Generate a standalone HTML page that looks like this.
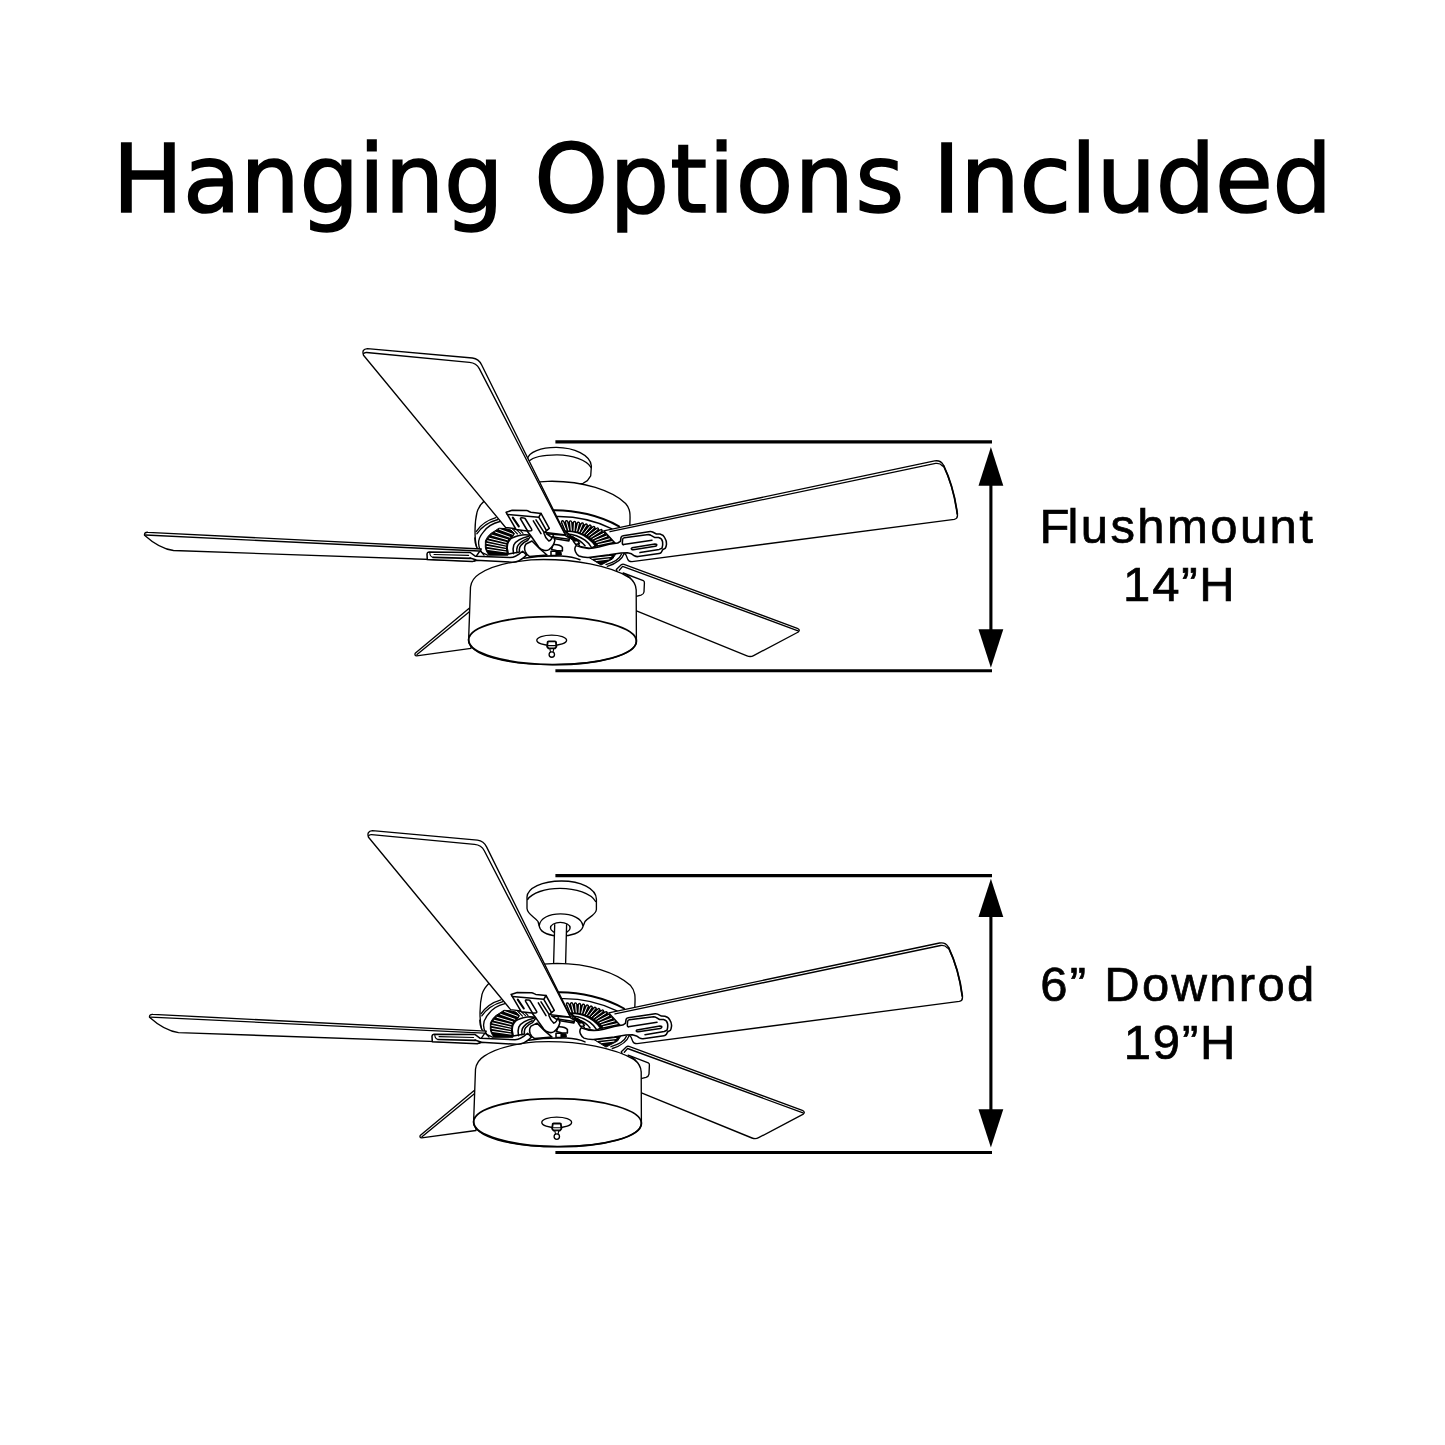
<!DOCTYPE html>
<html lang="en">
<head>
<meta charset="utf-8">
<title>Hanging Options Included</title>
<style>
html,body{margin:0;padding:0;background:#fff;}
body{width:1445px;height:1445px;overflow:hidden;}
svg{display:block;}
.t{font-family:"DejaVu Sans","Liberation Sans",sans-serif;font-size:94px;letter-spacing:0px;fill:#000;stroke:#000;stroke-width:1.6px;stroke-linejoin:miter;}
.l{font-family:"Liberation Sans",sans-serif;font-size:49px;letter-spacing:1.8px;fill:#000;stroke:#000;stroke-width:.7px;}
.o{fill:#fff;stroke:#000;stroke-width:1.35;stroke-linejoin:round;stroke-linecap:round;}
.n{fill:none;stroke:#000;stroke-width:1.35;stroke-linejoin:round;stroke-linecap:round;}
.h{fill:none;stroke:#000;stroke-width:2;stroke-linejoin:round;stroke-linecap:round;}
.k{fill:#000;stroke:#000;stroke-width:1;stroke-linejoin:round;}
.w{fill:none;stroke:#fff;stroke-width:1;stroke-linecap:round;}
.f{fill:none;stroke:#000;stroke-width:3.3;stroke-linecap:round;}
.hb .o,.hb .n{stroke-width:1.55;}
.d{fill:none;stroke:#000;stroke-width:3.1;}
</style>
</head>
<body>
<svg width="1445" height="1445" viewBox="0 0 1445 1445">
<rect width="1445" height="1445" fill="#fff"/>
<defs>
<!-- ===== shared fan body (fan 1 coordinates) ===== -->
<g id="fan">
<!-- motor housing -->
<path fill="#fff" d="M476.6 547C474.3 538 474.6 522 477 512.3C481 497 508 482.3 552 481.2C583 481.2 612 490.5 625.6 503.5C631 509.5 630.2 516 629.8 525L629 545L600 566L486 556Z"/>
<path class="n" d="M476.6 547C474.3 538 474.6 522 477 512.3C481 497 508 482.3 552 481.2C583 481.2 612 490.5 625.6 503.5C631 509.5 630.2 516 629.8 525"/>
<path class="n" d="M474.8 538C474.8 545 477.5 550 482 552.5L488.2 555.3"/>
<!-- trim ring -->
<path class="h" d="M552.6 510.2C575 509.8 600 515.5 619 526.4"/>
<path class="n" d="M557 516.5C576 516.2 596 521 612 528.8"/>
<path class="n" d="M495.9 517.7C488 520 480.5 525 476.2 531.6"/>
<path class="n" d="M497.9 519.5C489.5 521.8 481.5 527 476.8 533.8"/>
<path class="n" d="M499.9 521.5C492 523.5 486.5 527.5 483.5 531.9C480 536 478.4 540 478.6 543.5C478.8 547 480.5 551.5 484 555"/>
<path class="k" d="M490.9 533.4L494.9 530.9L498.9 528.2L505 528.6L511 530L514.5 533.6L512.4 537L508.4 541L506.9 546L507.9 555.2L489.2 555.2C486.8 552.5 485.5 549.5 485.3 547L485.4 541C486.5 538 488.5 535.5 490.9 533.4Z"/>
<path class="w" d="M499.6 529.4L512.6 534.2M495.6 532.2L509.8 537.2M492.0 535.2L507.6 539.8M489.2 538.2L506.2 542.4M487.6 540.8L506.0 545.0M486.8 543.4L505.6 547.2M487.0 546.4L505.6 549.6M487.6 549.4L506.0 552.0"/>
<path class="n" d="M513 529.4L517.5 534M516 529.2L520.5 533.6M519 529.2L523 533.4M512.5 529.2L521.5 529.6" style="stroke-width:1.1"/>
<path class="k" d="M561.4 522.3L570.5 522.1L582.1 524.1L592.3 527.0L602.5 531.2L605.5 534.0L614.8 543.0L597.0 546.2L594.4 542.0L586.9 536.0L576.9 532.0L565.2 531.6Z"/>
<path class="f" d="M562.5 521.8L566.5 531.6M566.5 521.7L569.0 531.7M570.5 521.8L571.4 531.8M574.5 522.4L573.9 531.9M578.4 523.1L576.3 532.0M582.3 523.9L578.7 532.7M586.2 525.0L580.9 533.6M590.0 526.1L583.2 534.5M593.8 527.5L585.5 535.4M597.5 529.0L587.6 536.6M601.2 530.6L589.5 538.1M604.2 533.1L591.5 539.6M607.1 535.9L593.4 541.2M610.0 538.7L595.0 543.0M612.8 541.5L596.3 545.1"/>
<path class="w" d="M562.7 522.1L566.1 530.5M566.6 522.0L568.7 530.6M570.6 522.1L571.3 530.7M574.5 522.8L574.0 530.8M578.4 523.4L576.6 531.0M582.2 524.2L579.1 531.7M586.0 525.3L581.5 532.6M589.8 526.4L584.0 533.6M593.5 527.8L586.4 534.5M597.2 529.3L588.8 535.7M600.8 530.9L590.9 537.3M603.8 533.4L592.9 538.9M606.7 536.1L595.0 540.6M609.5 538.8L596.7 542.5M612.3 541.6L598.2 544.6"/>
<!-- lower fins (right) -->
<path class="k" d="M588 556.9L615.6 554.3L612.5 559L601 565Z"/>
<path class="w" d="M592 558.4L611 556.4M596 560.6L609 559"/>
<path class="n" d="M624 553.8C622.5 558.5 618 563 607.3 566.4"/>
<path class="n" d="M621.4 554.2C620 558 616 561.6 606 564.6"/>
<!-- lower-left blade (behind drum) -->
<path class="o" d="M415.2 653.3L469.5 608.1L471 648.4L416.6 655.8Q414.3 655.6 415.2 653.3Z"/>
<path class="n" d="M417 654.6L470 611.2"/>
<!-- lower-right blade -->
<path class="o" d="M616.3 569.6L621.5 564.6Q622.6 563.8 624 564.3L797.3 628.3Q800.6 629.8 798.3 632L753.6 655.6Q750.6 657.3 747 655.9L634 609.8Z"/>
<path class="n" d="M619.3 570.2L622.6 566.4L798 630.8"/>
<!-- lower-right blade bracket -->
<path class="o" d="M623.2 573L643.3 580.7Q644.6 581.3 644.4 583L644 592Q643.6 594.4 641 595.2L630 598Z"/>
<path class="n" d="M626 574.5C631 577.5 634.6 582 635.6 590"/>
<!-- light kit drum -->
<path class="o" d="M468.6 640L470.5 587C471.5 580 474.5 577 479.2 574C489 567.5 506 562 531 559.8C575 557.8 612 567 628.8 577.3C634 581 636 585 636.2 590L636.4 641C636 655 600 664.6 552.5 664.6C505 664.6 469 655 468.6 640Z"/>
<ellipse class="h" cx="552.5" cy="640.6" rx="83.9" ry="24" fill="none" transform="rotate(.5 552.5 640.6)" style="stroke-width:1.8"/>
<!-- finial -->
<ellipse class="n" cx="551.7" cy="640.3" rx="14.9" ry="5.2"/>
<path class="o" d="M547.7 642.2Q547.6 641.4 548.6 641.4H555Q556 641.4 555.9 642.2L556.4 646.6L555 648.4H548.5L547.1 646.6Z" style="stroke-width:1.8"/>
<path class="n" d="M547.6 645.6H556" style="stroke-width:1.1"/>
<path class="o" d="M549.8 648.6L550.6 652.4H553L553.8 648.6Z" style="stroke-width:1.1"/>
<circle class="o" cx="551.8" cy="654.5" r="2.7"/>
<!-- left blade -->
<path class="o" d="M144.5 535.2Q144.2 532 148 532.3L481.3 549L479.2 552L476.4 556L475 561L173.5 550.5C162 549 151.5 541.5 144.5 535.2Z"/>
<path class="n" d="M145.5 535L479 551"/>
<!-- right blade -->
<path class="o" d="M603.8 530.8L934.6 460.9Q940.6 459.9 943.2 464.8C950 479 955 496 957.4 514.6Q957.9 518.7 954.3 519.3L632 561.6Q628.6 561.6 627.7 559.2L626 555Z"/>
<path class="n" d="M610 531.7L935.6 463.4Q940 462.8 942.6 466"/>
<path class="n" d="M943.6 465.6C950 479 955 496 957.3 514" style="stroke-width:1.8"/>
<!-- top blade -->
<path class="o" d="M505.6 527.5L363.5 355.2Q361.4 349 367.4 348.6L472.4 358Q478.8 358.8 481.7 365L565.8 535Z"/>
<path class="n" d="M363.6 353.8Q364.4 352.3 366.6 352.5L469.5 362.3Q476.4 363 479.3 368.6L564.4 533.2"/>
<g class="hb">
<!-- left blade holder + arm -->
<path class="o" d="M427.3 559.6L427 554Q427.2 552.2 429 552.1L470.2 552.5L475.2 556.2L510 557.6C515.5 557.5 519 554.5 522.6 551.2L526.5 555C522.5 559.5 518 562 512 562.2L476 560.2L472.3 561.6Z"/>
<path class="n" d="M429.8 553C430 555.6 431 557 433.2 557.4M434 554.5L468.6 555.4" style="stroke-width:1.1"/>
<path class="n" d="M433.2 557.4L470.4 558.3" style="stroke-width:1.7"/>
<path class="n" d="M470 558L475.7 559.8"/>
<!-- left collar -->
<path class="o" d="M531 535.6C527.5 534.6 524.5 534.6 522 535C516.5 536 512.5 537.5 510.5 539C508 541.5 507 545 507.2 548.5L508.3 554L519.6 552C519 549.5 519.2 547.5 520.8 545.5C522.5 543 525 541.5 527.5 540.5Z"/>
<path class="n" d="M528.8 536.2C521 538 515.5 541.5 513.8 545C512.8 548 512.9 551 513.5 553.6"/>
<path class="n" d="M527.2 538.6C522.5 540.5 519 543.5 517.4 546.5C516.6 548.5 516.6 551 517 552.6"/>
<!-- ball joint -->
<path class="o" d="M526 544C524.5 546 524.3 549 525.2 551.6C526.2 554 527.8 555.6 529.5 556.4L547 555L540 549L532 541Z"/>
<!-- hub base plate -->
<path class="n" d="M523.8 558.2C535 556.3 550 555.6 561 556C570 556.5 576 558 580 559.8"/>
<!-- nut -->
<path class="o" d="M551 551.2H556.2V555.4H551Z"/>
<path class="k" d="M556.6 551.4L561 551.8L561.4 555L556.6 555.2Z"/>
<path class="o" d="M553 544.6C557 544.4 561 545.5 562.4 547.4L562.4 551L556.5 550.6L551.5 549.5Z"/>
<!-- top blade root bar -->
<path class="o" d="M546.5 533.8L564.8 535.2L569.8 538.3L568.8 541L553.5 538.5Z"/>
<path class="n" d="M554.3 537.2L569.2 539.3"/>
<!-- top blade holder -->
<path class="o" d="M506.1 512.3L512.2 510.3L526.6 510.6C528.5 511 529.5 512 531 512.3L541 513.4L549.3 528.3L543.8 532.8C544.5 535.5 546.5 539 548.8 541C550.5 540.5 552 538.5 553.2 535.6L554.9 540.4C554 544.5 552 547.6 549 549.6C547 550.8 545.5 550.8 543.8 550.2C541.5 549.5 540 548.5 538.8 547.2L531 536L527 531L516.2 529.6Z"/>
<path class="n" d="M507.3 514.5L538.8 517.2L541 513.4M538.8 517.2L546.5 530.6"/>
<path class="n" d="M512.8 517.6L518.8 526.4" style="stroke-width:2.1"/>
<path class="n" d="M520.6 519.2Q520 517.8 521.6 517.8L523.8 518Q524.8 518 525.4 519L531.6 529.2Q532.2 530.6 530.8 530.8L528.8 531Q527.6 531 527 530Z"/>
<path class="n" d="M533.3 520.8L541 533.6M536 519.8L543.6 531.6"/>
<!-- right collar -->
<path class="o" d="M565.6 531C574 531 582 533.5 588.4 538.6C591.5 541 594 543.5 595.6 546L590 548.6L580 546.5L576 541Z"/>
<path class="n" d="M566.3 533.9C573 534.2 580 536.5 585 540.2C588 542.5 590 544.8 591.2 547"/>
<path class="n" d="M573.2 538C577.5 539 581.5 541.5 585 545.8"/>
<path class="k" d="M567 535.5L573 536.5L578.6 540.5L574 541.5Z"/>
<path class="o" d="M573.4 541.2L577.4 540.4L579.4 543.4L575.6 544.4Z"/>
<!-- right arm + blade holder -->
<path class="o" d="M576.2 545.6C580 547.2 584 548.2 588.4 548.4C591.5 548.5 595 548 598.8 547.1L609.2 544.3L617.7 543L620.4 541.3L621.1 537.2Q621.5 536 623.2 535.7L650.2 531.6Q651.5 531.5 652.6 532L656.4 534L660 534.1C662.5 534.8 664 536 664.8 537.8C666.2 540 666.8 542 666.5 544.2C666.3 546 666 547.4 665.3 548.3L662.8 549.6L661.2 552.5Q660.4 553.5 659 553.6L638 556.6Q636 556.7 634.4 555.8L631.5 553.8L627.4 552.7L621 553L609.2 554.8L588.4 557.4C585 557.5 582 557.2 579 556C577.8 555.4 576.5 554 575.6 552C574.6 550 574.6 547.5 576.2 545.6Z"/>
<path class="n" d="M623.4 544.6Q622.3 544.6 622.3 543.2L622.6 539.4Q622.8 538 624.4 537.7L648.6 534.6Q650 534.6 651 535.3L654.5 537.4L658.6 537.4C661 538 662.3 539.6 662.6 541.8C662.9 544 662.8 546 662 548.2L659.2 549.4L640 552.6"/>
<path class="n" d="M623.4 544.6L652 540.2"/>
<path class="n" d="M631.8 549.5Q630.6 548.6 632 547.8L655 544Q657.4 544 656.6 545.4Q656.2 546.2 655.2 546.3L633.4 549.7Q632.4 549.8 631.8 549.5Z"/>
</g>
</g>
</defs>

<text class="t" y="212.4"><tspan x="112.5" style="letter-spacing:-.3px">Hanging </tspan><tspan x="534.3" style="letter-spacing:1.2px">Options </tspan><tspan x="932.8" style="letter-spacing:-.35px">Included</tspan></text>

<!-- fan 1 : flushmount -->
<g id="flush">
<!-- flush canopy -->
<path class="o" d="M527.5 459C528.5 452 541 447.3 556.5 447.4C574 447.6 590.5 455 591.4 466L590.7 475.8L587.4 480.6L583.1 483.3L530 486Z"/>
<path class="n" d="M528.6 461.5C533 457.2 544 454.8 557.5 454.9C572 455.1 586.5 460 591.2 467.6"/>
<use href="#fan"/>
</g>
<text class="l" x="1039.4" y="543.4" style="letter-spacing:2.4px"><tspan style="letter-spacing:-1.8px">F</tspan>lushmount</text>
<text class="l" x="1179.8" y="600.6" text-anchor="middle">14”H</text>

<!-- fan 2 : downrod -->
<g id="downrod">
<!-- downrod canopy -->
<path class="o" d="M527 897C527.5 888 542 881 561.5 881C581 881 596 888.5 596.4 899L596.4 909.5C596 915 588 917.5 585 921.5L582.8 927C581 933 571 936 560.5 936C550 936 541 933 539.5 927L538 921.5C535 917 527.5 914.5 527 908.5Z"/>
<path class="n" d="M527.6 899.5C532 893 545 888.4 560 888.4C576 888.4 591 893.5 595.6 901.5"/>
<path class="n" d="M539.3 925.5C540 918.5 549 913.8 560.5 913.8C572 913.8 582 918.5 582.8 925.5"/>
<ellipse class="n" cx="560.3" cy="927.9" rx="9.8" ry="5.5"/>
<path fill="#fff" d="M554.7 925L553.6 964H565.6L566.6 925Z"/>
<path class="n" d="M554.7 924.6L553.6 964M566.6 924.6L565.6 964"/>
<use href="#fan" transform="translate(5 482.1)"/>
</g>
<text class="l" x="1178.4" y="1001" text-anchor="middle" style="letter-spacing:2.3px">6” Downrod</text>
<text class="l" x="1180.5" y="1058.8" text-anchor="middle">19”H</text>
<!-- dimension lines + arrows -->
<g class="d">
<path d="M555.4 441.9H992"/>
<path d="M555.4 670.8H992"/>
<path d="M990.9 484V631"/>
<path d="M555.4 875.6H992"/>
<path d="M555.4 1152.5H992"/>
<path d="M990.9 915V1111"/>
</g>
<g fill="#000">
<path d="M990.9 447.1L1003.3 485.7H978.5Z"/>
<path d="M990.9 667.7L1003.3 629.2H978.5Z"/>
<path d="M990.9 878.7L1003.3 916.9H978.5Z"/>
<path d="M990.9 1147.5L1003.3 1109.2H978.5Z"/>
</g>
</svg>
</body>
</html>
